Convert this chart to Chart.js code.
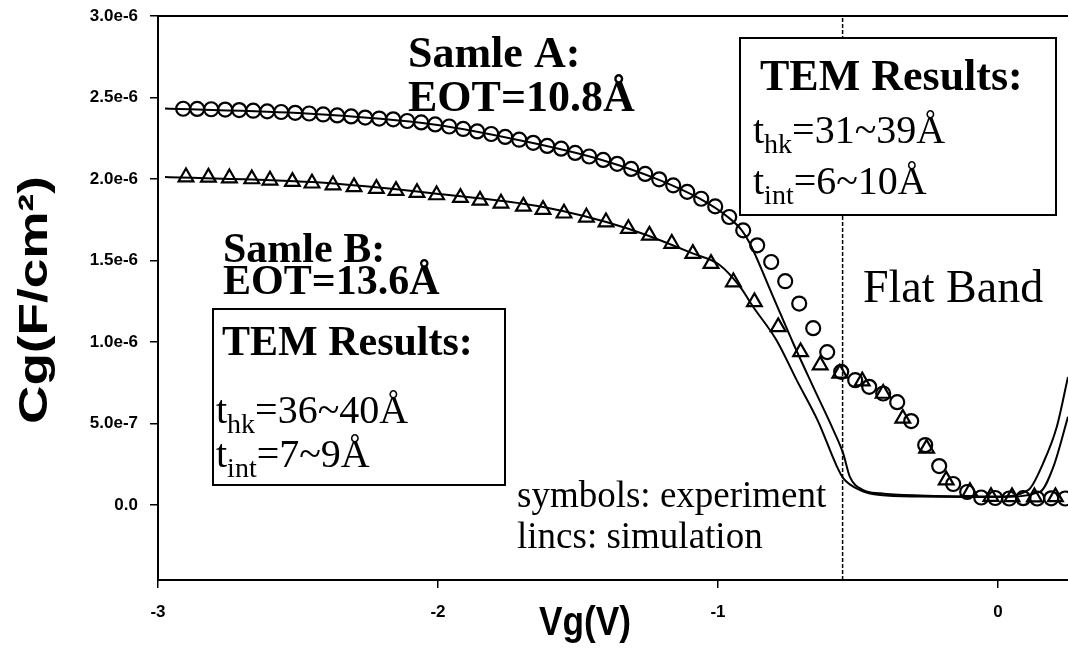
<!DOCTYPE html>
<html>
<head>
<meta charset="utf-8">
<script src="https://cdn.jsdelivr.net/npm/chart.js@4.4.0/dist/chart.umd.min.js"></script>
<style>
  html, body { margin: 0; padding: 0; background: #fff; overflow: hidden; }
  #wrap { width: 1068px; height: 648px; position: relative; }
</style>
</head>
<body>
<div id="wrap"><canvas id="myChart" width="1068" height="648"></canvas></div>
<script>
// values in units of 1e-6 F/cm^2, voltages in V
const circleV = [-2.91,-2.86,-2.81,-2.76,-2.71,-2.66,-2.61,-2.56,-2.51,-2.46,
  -2.41,-2.36,-2.31,-2.26,-2.21,-2.16,-2.11,-2.06,-2.01,-1.96,
  -1.91,-1.86,-1.81,-1.76,-1.71,-1.66,-1.61,-1.56,-1.51,-1.46,
  -1.41,-1.36,-1.31,-1.26,-1.21,-1.16,-1.11,-1.06,-1.01,-0.96,
  -0.91,-0.86,-0.81,-0.76,-0.71,-0.66,-0.61,-0.56,-0.51,-0.46,
  -0.41,-0.36,-0.31,-0.26,-0.21,-0.16,-0.11,-0.06,-0.01,0.04,
  0.09,0.14,0.19,0.24];
const circleC = [2.431,2.430,2.428,2.426,2.423,2.419,2.415,2.411,2.406,2.402,
  2.396,2.390,2.384,2.377,2.371,2.366,2.356,2.347,2.335,2.322,
  2.307,2.292,2.276,2.258,2.241,2.222,2.203,2.186,2.160,2.138,
  2.117,2.093,2.062,2.031,1.998,1.961,1.921,1.879,1.832,1.767,
  1.685,1.593,1.491,1.373,1.236,1.085,0.938,0.817,0.766,0.725,
  0.684,0.631,0.515,0.368,0.239,0.129,0.080,0.046,0.043,0.040,
  0.042,0.040,0.041,0.040];

const triV = [-2.90,-2.82,-2.745,-2.665,-2.60,-2.52,-2.45,-2.375,-2.30,-2.22,
  -2.15,-2.075,-2.005,-1.92,-1.85,-1.775,-1.695,-1.625,-1.55,-1.47,
  -1.40,-1.32,-1.245,-1.165,-1.09,-1.025,-0.945,-0.87,-0.785,-0.705,
  -0.635,-0.565,-0.485,-0.41,-0.34,-0.255,-0.185,-0.10,-0.025,0.05,
  0.13,0.205];
const triC = [2.012,2.010,2.006,2.000,1.992,1.984,1.974,1.963,1.952,1.941,
  1.929,1.916,1.902,1.886,1.869,1.851,1.832,1.812,1.790,1.765,
  1.736,1.695,1.654,1.604,1.542,1.481,1.368,1.246,1.093,0.939,
  0.858,0.807,0.760,0.684,0.531,0.347,0.153,0.081,0.051,0.050,
  0.049,0.050];

const simAV = [-2.975,-2.47,-2.015,-1.665,-1.415,-1.215,-1.065,-0.965,-0.915,-0.886,
  -0.808,-0.731,-0.66,-0.588,-0.553,-0.529,-0.481,-0.421,-0.28,0.0,0.108,0.161,0.21,0.25];
const simAC = [2.432,2.402,2.335,2.222,2.117,1.998,1.879,1.767,1.685,1.604,
  1.297,0.991,0.725,0.46,0.317,0.173,0.092,0.072,0.058,0.052,0.092,0.256,0.48,0.786];

const simBV = [-2.975,-2.447,-2.005,-1.624,-1.32,-1.088,-0.993,-0.921,-0.874,-0.791,
  -0.719,-0.643,-0.576,-0.553,-0.493,-0.421,-0.28,0.0,0.15,0.198,0.25];
const simBC = [2.012,1.981,1.910,1.828,1.695,1.542,1.471,1.338,1.215,1.011,
  0.766,0.515,0.239,0.165,0.092,0.061,0.052,0.049,0.081,0.235,0.541];

const flatBandV = -0.555;
const xTicks = [-3, -2, -1, 0];
const yTicks = [0, 0.5, 1.0, 1.5, 2.0, 2.5, 3.0];
const xTitle = 'Vg(V)';
const yTitle = 'Cg(F/cm²)';

const pts = (xs, ys) => xs.map((x, i) => ({ x: x, y: ys[i] }));

const serif = '"Liberation Serif", "Times New Roman", serif';
const sans = '"Liberation Sans", Arial, sans-serif';

// subscripted label like t_hk=31~39Å
function subText(c, x, y, main, sub, rest, size) {
    c.font = size + 'px ' + serif;
    c.fillText(main, x, y);
    x += c.measureText(main).width;
    c.font = Math.round(size * 0.7) + 'px ' + serif;
    c.fillText(sub, x, y + 10);
    x += c.measureText(sub).width;
    c.font = size + 'px ' + serif;
    c.fillText(rest, x, y);
}

// text squeezed/stretched along its own direction to a given length
function fitText(c, text, cx, cy, len, rot) {
    c.save();
    c.translate(cx, cy);
    c.rotate(rot);
    const w = c.measureText(text).width;
    c.scale(len / w, 1);
    c.textAlign = 'center';
    c.textBaseline = 'middle';
    c.fillText(text, 0, 0);
    c.restore();
}

const annotations = {
    id: 'annotations',
    afterDraw(chart) {
        const c = chart.ctx;
        const a = chart.chartArea;
        c.save();
        // top frame line
        c.strokeStyle = '#000';
        c.lineWidth = 2;
        c.beginPath();
        c.moveTo(a.left, a.top);
        c.lineTo(a.right, a.top);
        c.stroke();

        c.fillStyle = '#000';

        // axis titles
        c.font = 'bold 40px ' + sans;
        fitText(c, xTitle, 585, 624, 92, 0);
        c.font = 'bold 40px ' + sans;
        fitText(c, yTitle, 36, 300, 248, -Math.PI / 2);

        c.textBaseline = 'alphabetic';
        c.textAlign = 'left';

        c.font = 'bold 44px ' + serif;
        c.fillText('Samle A:', 408, 67);
        c.fillText('EOT=10.8Å', 408, 111);
        c.font = 'bold 42px ' + serif;
        c.fillText('Samle B:', 223, 262);
        c.fillText('EOT=13.6Å', 223, 294);

        // box B
        c.fillStyle = '#fff';
        c.fillRect(213, 309, 292, 176);
        c.strokeRect(213, 309, 292, 176);
        c.fillStyle = '#000';
        c.font = 'bold 42px ' + serif;
        c.fillText('TEM Results:', 222, 355);
        subText(c, 216, 423, 't', 'hk', '=36~40Å', 40);
        subText(c, 216, 467, 't', 'int', '=7~9Å', 40);

        // box A
        c.fillStyle = '#fff';
        c.fillRect(740, 38, 316, 177);
        c.strokeRect(740, 38, 316, 177);
        c.fillStyle = '#000';
        c.font = 'bold 44px ' + serif;
        c.fillText('TEM Results:', 760, 90);
        subText(c, 753, 143, 't', 'hk', '=31~39Å', 40);
        subText(c, 753, 194, 't', 'int', '=6~10Å', 40);

        c.font = '46px ' + serif;
        c.fillText('Flat Band', 863, 302);
        c.font = '37px ' + serif;
        c.fillText('symbols: experiment', 517, 507);
        c.fillText('lincs: simulation', 517, 548);
        c.restore();
    }
};

const ctx = document.getElementById('myChart');
new Chart(ctx, {
    type: 'scatter',
    data: {
        datasets: [
            {
                data: [{ x: flatBandV, y: -0.46 }, { x: flatBandV, y: 3.0 }],
                showLine: true,
                borderColor: '#000',
                borderWidth: 1.5,
                borderDash: [4, 2],
                pointRadius: 0,
            },
            {
                data: pts(simAV, simAC),
                showLine: true,
                borderColor: '#000',
                borderWidth: 2,
                pointRadius: 0,
                cubicInterpolationMode: 'monotone',
            },
            {
                data: pts(simBV, simBC),
                showLine: true,
                borderColor: '#000',
                borderWidth: 2,
                pointRadius: 0,
                cubicInterpolationMode: 'monotone',
            },
            {
                data: pts(circleV, circleC),
                showLine: false,
                pointStyle: 'circle',
                pointRadius: 7,
                pointBorderWidth: 2.2,
                pointBorderColor: '#000',
                pointBackgroundColor: 'rgba(0,0,0,0)',
            },
            {
                data: pts(triV, triC),
                showLine: false,
                pointStyle: 'triangle',
                pointRadius: 8.5,
                pointBorderWidth: 2.2,
                pointBorderColor: '#000',
                pointBackgroundColor: 'rgba(0,0,0,0)',
            }
        ]
    },
    options: {
        responsive: false,
        animation: false,
        devicePixelRatio: 1,
        layout: { autoPadding: false, padding: { top: 16, right: 0, left: 0, bottom: 0 } },
        plugins: {
            legend: { display: false },
            tooltip: { enabled: false }
        },
        scales: {
            x: {
                type: 'linear',
                min: -3,
                max: 0.25,
                afterBuildTicks: (s) => { s.ticks = xTicks.map(v => ({ value: v })); },
                afterFit: (s) => { s.height = 68; s.paddingLeft = 0; s.paddingRight = 0; },
                ticks: {
                    color: '#000',
                    font: { family: sans, size: 17, weight: 'bold' },
                    padding: 14,
                    maxRotation: 0,
                    callback: (v) => String(v)
                },
                grid: { drawOnChartArea: false, drawTicks: true, tickLength: 8, color: '#000', lineWidth: 1.5 },
                border: { display: true, color: '#000', width: 2 },
                title: { display: false, text: xTitle }
            },
            y: {
                type: 'linear',
                min: -0.46,
                max: 3.0,
                afterBuildTicks: (s) => { s.ticks = yTicks.map(v => ({ value: v })); },
                afterFit: (s) => { s.width = 158; s.paddingTop = 0; s.paddingBottom = 0; },
                ticks: {
                    color: '#000',
                    font: { family: sans, size: 17, weight: 'bold' },
                    padding: 12,
                    callback: (v) => v === 0 ? '0.0' : (v * 1e-6).toExponential(1)
                },
                grid: { drawOnChartArea: false, drawTicks: true, tickLength: 8, color: '#000', lineWidth: 1.5 },
                border: { display: true, color: '#000', width: 2 },
                title: { display: false, text: yTitle }
            }
        }
    },
    plugins: [annotations]
});
</script>
</body>
</html>
